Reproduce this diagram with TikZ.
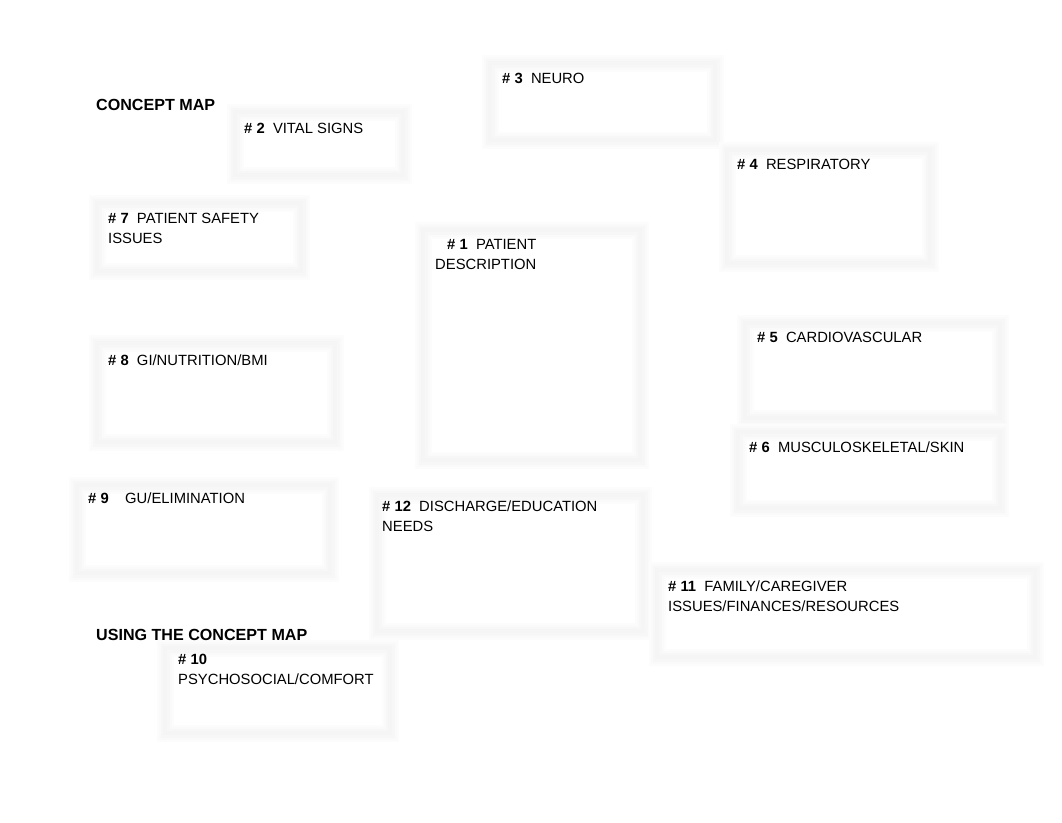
\documentclass[tikz,border=0pt]{standalone}
\usepackage{fontspec}
\setmainfont{Liberation Sans}
\tikzset{
  frameout/.style={draw=gray!2, line width=17pt},
  frame/.style={draw=gray!4, line width=13pt},
  framemid/.style={draw=gray!6, line width=9pt},
  frameinner/.style={draw=gray!8, line width=4pt},
  label/.style={anchor=base west, inner sep=0pt, align=left,
    font=\fontsize{14.8}{20}\selectfont},
  heading/.style={label, font=\fontsize{16.1}{20}\selectfont\bfseries}
}
% soft grey box: name, top left, bottom right
\newcommand{\mapbox}[3]{
  \draw[frameout] (#2) rectangle (#3);
  \draw[frame] (#2) rectangle (#3);
  \draw[framemid] (#2) rectangle (#3);
  \draw[frameinner] (#2) rectangle (#3);
  \coordinate (#1) at (#2);
}
\begin{document}
\begin{tikzpicture}[x=1pt,y=-1pt]
  \fill[white] (0,0) rectangle (1062,822);
  \useasboundingbox (0,0) rectangle (1062,822);

  \mapbox{neuro}{490,63}{715,140}
  \mapbox{vital}{235,112}{403,175}
  \mapbox{resp}{727,150}{930,263}
  \mapbox{safety}{97,203}{301,271}
  \mapbox{patient}{423,230}{640,460}
  \mapbox{gi}{97,343}{335,442}
  \mapbox{cardio}{745,323}{1000,418}
  \mapbox{musc}{738,432}{1000,508}
  \mapbox{gu}{77,485}{330,573}
  \mapbox{discharge}{377,495}{643,631}
  \mapbox{family}{657,570}{1035,657}
  \mapbox{psycho}{165,648}{390,733}

  \node[heading] (title) at (96,110.5) {CONCEPT MAP};
  \node[heading] (using) at (96,640.5) {USING THE CONCEPT MAP};

  \node[label] (t2) at (244,133) {\textbf{\# 2}\ \ VITAL SIGNS};
  \node[label] (t3) at (502,83) {\textbf{\# 3}\ \ NEURO};
  \node[label] (t4) at (737,169) {\textbf{\# 4}\ \ RESPIRATORY};
  \node[label] (t7) at (108,243) {\textbf{\# 7}\ \ PATIENT SAFETY\\ISSUES};
  \node[label] (t1) at (435,269) {\hspace{12pt}\textbf{\# 1}\ \ PATIENT\\DESCRIPTION};
  \node[label] (t5) at (757,342) {\textbf{\# 5}\ \ CARDIOVASCULAR};
  \node[label] (t8) at (108,365) {\textbf{\# 8}\ \ GI/NUTRITION/BMI};
  \node[label] (t6) at (749,452) {\textbf{\# 6}\ \ MUSCULOSKELETAL/SKIN};
  \node[label] (t9) at (88,503) {\textbf{\# 9}\ \ \ \ GU/ELIMINATION};
  \node[label] (t12) at (382,531) {\textbf{\# 12}\ \ DISCHARGE/EDUCATION\\NEEDS};
  \node[label] (t11) at (668,611) {\textbf{\# 11}\ \ FAMILY/CAREGIVER\\ISSUES/FINANCES/RESOURCES};
  \node[label] (t10) at (178,684) {\textbf{\# 10}\\PSYCHOSOCIAL/COMFORT};
\end{tikzpicture}
\end{document}
